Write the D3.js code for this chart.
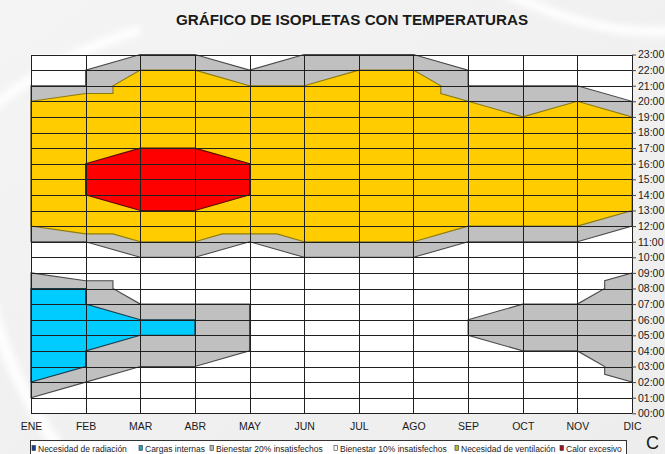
<!DOCTYPE html>
<html>
<head>
<meta charset="utf-8">
<script src="https://cdn.jsdelivr.net/npm/d3@7"></script>
<style>
  html, body { margin: 0; padding: 0; background: #f2f2f2; }
  svg { display: block; }
  text { font-family: "Liberation Sans", Arial, sans-serif; }
</style>
</head>
<body>
<svg id="chart" width="665" height="454"></svg>
<script>
// Month labels along the bottom axis
const months = ["ENE","FEB","MAR","ABR","MAY","JUN","JUL","AGO","SEP","OCT","NOV","DIC"];
// Hour labels on the right axis (0..23)
const hours = d3.range(0, 24).map(h => (h < 10 ? "0" + h : "" + h) + ":00");

// Region boundaries as [month position, hour] pairs
// Daytime comfort envelope, 20% dissatisfied (outer)
const bienestar20DiaSup = [[0,21],[1,21],[1,22],[2,23],[3,23],[4,22],[5,23],[6,23],[7,23],[8,22],[8,21],[9,21],[10,21],[11,20]];
const bienestar20DiaInf = [[0,11],[1,11],[2,10],[3,10],[4,11],[5,10],[6,10],[7,10],[8,11],[9,11],[10,11],[11,12]];
// Daytime comfort, 10% dissatisfied (inner)
const bienestar10Sup = [[0,20],[1,20.5],[1.5,20.5],[1.5,21],[2,22],[3,22],[4,21],[5,21],[6,22],[7,22],[7.5,21],[7.5,20.5],[8,20],[9,19],[10,20],[11,19]];
const bienestar10Inf = [[0,12],[1,11.5],[1.5,11.5],[2,11],[3,11],[3.5,11.5],[4.5,11.5],[5,11],[6,11],[7,11],[8,12],[9,12],[10,12],[11,13]];
// Excess heat
const calorSup = [[1,16],[2,17],[3,17],[4,16]];
const calorInf = [[1,14],[2,13],[3,13],[4,14]];
// Night-time envelope, first half of the year
const bienestar20NocheSup = [[0,9],[1,8.5],[1.5,8.5],[1.5,8],[2,7],[3,7],[4,7]];
const bienestar20NocheInf = [[0,1],[1,2],[2,3],[3,3],[4,4]];
// Internal gains
const cargasSup = [[0,8],[1,8],[1,7],[2,6],[3,6]];
const cargasInf = [[0,2],[1,3],[1,4],[2,5],[3,5]];
// Night-time envelope, end of the year
const bienestar20OtonoSup = [[8,6],[9,7],[10,7],[10.5,8],[10.5,8.5],[11,9]];
const bienestar20OtonoInf = [[8,5],[9,4],[10,4],[10.5,3],[10.5,2.5],[11,2]];

// Legend entries
const legendLabels = ["Necesidad de radiación","Cargas internas","Bienestar 20% insatisfechos","Bienestar 10% insatisfechos","Necesidad de ventilación","Calor excesivo"];
const legendColors = ["#1c3f8f","#1aa3c8","#b8b8b8","#ffffff","#b5c21a","#a0101e"];

const svg = d3.select("#chart");
const W = 665, H = 454;

// Soft background with light swooshes
const defs = svg.append("defs");
const bg = defs.append("linearGradient").attr("id","bg").attr("x1","0").attr("y1","0").attr("x2","1").attr("y2","1");
bg.append("stop").attr("offset","0").attr("stop-color","#f4f4f4");
bg.append("stop").attr("offset","1").attr("stop-color","#ededed");
defs.append("filter").attr("id","soft").append("feGaussianBlur").attr("stdDeviation", 3);
svg.append("rect").attr("width", W).attr("height", H).attr("fill", "url(#bg)");
const swoosh = svg.append("g").attr("filter","url(#soft)").attr("fill","none").attr("stroke","#ffffff").attr("stroke-opacity",0.9);
swoosh.append("path").attr("d","M-20,120 Q40,60 140,30").attr("stroke-width",10);
swoosh.append("path").attr("d","M-10,300 Q10,380 60,450").attr("stroke-width",12);
swoosh.append("path").attr("d","M500,-10 Q600,40 680,30").attr("stroke-width",10);

const x = d3.scaleLinear().domain([0, 11]).range([31, 632]);
const y = d3.scaleLinear().domain([0, 23]).range([413.3, 54.5]);

// Plot background
svg.append("rect")
  .attr("x", x(0)).attr("y", y(23))
  .attr("width", x(11) - x(0)).attr("height", y(0) - y(23))
  .attr("fill", "#ffffff");

const line = d3.line().x(d => x(d[0])).y(d => y(d[1]));
function area(sup, inf) {
  return line(sup.concat(inf.slice().reverse())) + "Z";
}

const regions = svg.append("g");
function drawRegion(sup, inf, fill, stroke) {
  regions.append("path")
    .attr("d", area(sup, inf))
    .attr("fill", fill)
    .attr("stroke", stroke)
    .attr("stroke-width", 1.1)
    .attr("stroke-linejoin", "miter");
}
drawRegion(bienestar20DiaSup, bienestar20DiaInf, "#c0c0c0", "#4a4a4a");
drawRegion(bienestar10Sup, bienestar10Inf, "#ffcc00", "#8a7a10");
drawRegion(calorSup, calorInf, "#ff0000", "#5a0a0a");
drawRegion(bienestar20NocheSup, bienestar20NocheInf, "#c0c0c0", "#4a4a4a");
drawRegion(cargasSup, cargasInf, "#00ccff", "#1a3a4a");
drawRegion(bienestar20OtonoSup, bienestar20OtonoInf, "#c0c0c0", "#4a4a4a");

// Grid: one line per hour and per month
const grid = svg.append("g").attr("stroke", "#202020").attr("stroke-width", 1.3).attr("shape-rendering","crispEdges");
grid.selectAll("line.h").data(hours).join("line")
  .attr("class","h")
  .attr("x1", x(0)).attr("x2", x(11))
  .attr("y1", (d, i) => Math.round(y(i)) + 0.5).attr("y2", (d, i) => Math.round(y(i)) + 0.5);
grid.selectAll("line.v").data(months).join("line")
  .attr("class","v")
  .attr("y1", y(0)).attr("y2", y(23))
  .attr("x1", (d, i) => Math.round(x(i)) + 0.5).attr("x2", (d, i) => Math.round(x(i)) + 0.5);

// Right axis with hour labels
const yAxis = d3.axisRight(d3.scaleLinear().domain([0, 23]).range([y(0), y(23)]))
  .tickValues(d3.range(0, 24))
  .tickFormat(d => hours[d])
  .tickSize(4)
  .tickSizeOuter(0)
  .tickPadding(2);
const ya = svg.append("g").attr("transform", `translate(${x(11)},0)`).call(yAxis);
ya.select(".domain").remove();
ya.selectAll(".tick line").attr("stroke", "#444");
ya.selectAll(".tick text")
  .attr("fill", "#1a1a1a")
  .style("font-family", "'Liberation Sans', Arial, sans-serif")
  .style("font-size", "10.5px");

// Month labels along the bottom
const xAxis = d3.axisBottom(x)
  .tickValues(d3.range(0, 12))
  .tickFormat(i => months[i])
  .tickSize(0)
  .tickPadding(9);
const xa = svg.append("g").attr("transform", `translate(0,${y(0)})`).call(xAxis);
xa.select(".domain").remove();
xa.selectAll(".tick text")
  .attr("fill", "#1a1a1a")
  .style("font-family", "'Liberation Sans', Arial, sans-serif")
  .style("font-size", "10.5px");

// Title
svg.append("text")
  .attr("x", 352).attr("y", 25)
  .attr("text-anchor", "middle")
  .style("font-size", "15.2px")
  .style("font-weight", "bold")
  .attr("fill", "#1a1a1a")
  .text("GRÁFICO DE ISOPLETAS CON TEMPERATURAS");

// Legend
const lg = svg.append("g");
lg.append("rect")
  .attr("x", 30.5).attr("y", 440.5).attr("width", 596).attr("height", 24)
  .attr("fill", "#ffffff").attr("stroke", "#333").attr("stroke-width", 1);
const legendX = [32, 139, 210, 334, 455, 560];
legendLabels.forEach((label, i) => {
  lg.append("rect")
    .attr("x", legendX[i]).attr("y", 445.5).attr("width", 3.5).attr("height", 5)
    .attr("fill", legendColors[i]).attr("stroke", "#333").attr("stroke-width", 0.6);
  lg.append("text")
    .attr("x", legendX[i] + 6).attr("y", 451.5)
    .style("font-size", "8.5px")
    .attr("fill", "#222")
    .text(label);
});

// Letter at the lower-right edge
svg.append("text")
  .attr("x", 646).attr("y", 449)
  .style("font-size", "18px")
  .attr("fill", "#1a1a1a")
  .text("C");
</script>
</body>
</html>
